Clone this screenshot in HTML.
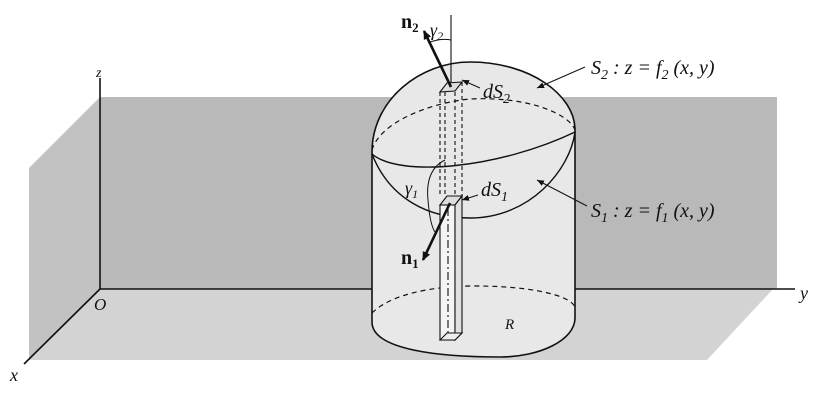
<!DOCTYPE html>
<html><head><style>body{margin:0;background:#fff}svg{display:block}</style></head><body>
<svg width="825" height="406" viewBox="0 0 825 406" xmlns="http://www.w3.org/2000/svg" font-family="Liberation Serif, serif">
<defs><marker id="ah" markerWidth="10" markerHeight="10" refX="8" refY="5" orient="auto" markerUnits="userSpaceOnUse"><path d="M0,1 L9,5 L0,9 Z" fill="#111"/></marker>
<marker id="sa" markerWidth="8" markerHeight="8" refX="7" refY="4" orient="auto" markerUnits="userSpaceOnUse"><path d="M0,1 L7,4 L0,7 Z" fill="#111"/></marker></defs>
<polygon points="100,97 777,97 777,289 100,289" fill="#b9b9b9"/>
<polygon points="29,168 100,97 100,289 29,360" fill="#c2c2c2"/>
<polygon points="100,289 773,289 707,360 29,360" fill="#d3d3d3"/>
<g stroke="#111" stroke-width="1.6" fill="none">
<line x1="100" y1="78" x2="100" y2="289"/>
<line x1="100" y1="289" x2="795" y2="289"/>
<line x1="100" y1="289" x2="24" y2="364"/>
</g>
<path d="M372,152 C372,100 420,62 470,62 C530,62 575,95 575,130 L575,318 C575,340 540,357 500,357 C440,357 372,350 372,322 Z" fill="#e8e8e8" stroke="#111" stroke-width="1.6"/>
<path d="M372,154 C390,200 430,218 470,218 C530,218 570,170 575,132" fill="none" stroke="#111" stroke-width="1.4"/>
<path d="M372,154 C400,178 500,168 575,132" fill="none" stroke="#111" stroke-width="1.4"/>
<path d="M372,150 C380,122 430,103 470,99 C530,96 570,115 575,130" fill="none" stroke="#111" stroke-width="1.2" stroke-dasharray="5,4"/>
<path d="M372,313 C390,295 430,286 475,286 C530,286 570,295 575,307" fill="none" stroke="#111" stroke-width="1.2" stroke-dasharray="5,4"/>
<g stroke="#111" stroke-width="1.1" fill="none">
<line x1="451" y1="15" x2="451" y2="85"/>
<polygon points="440,92 447,83 462,82 455,91" fill="#ddd"/>
<line x1="440" y1="92" x2="440" y2="195" stroke-dasharray="4,3"/>
<line x1="445" y1="92" x2="445" y2="195" stroke-dasharray="4,3"/>
<line x1="455" y1="92" x2="455" y2="200" stroke-dasharray="4,3"/>
<line x1="462" y1="82" x2="462" y2="200" stroke-dasharray="4,3"/>
<polygon points="440,205 447,196 462,196 455,205" fill="#ddd"/>
<rect x="440" y="205" width="15" height="135" fill="#f4f4f4"/>
<polygon points="455,205 462,196 462,333 455,340" fill="#e0e0e0"/>
<line x1="448" y1="208" x2="448" y2="338" stroke-dasharray="8,3,2,3"/>
<polygon points="440,340 447,333 462,333 455,340" fill="#eee"/>
</g>
<line x1="451" y1="87" x2="424" y2="31" stroke="#111" stroke-width="2.6" marker-end="url(#ah)"/>
<line x1="450" y1="203" x2="423" y2="260" stroke="#111" stroke-width="2.6" marker-end="url(#ah)"/>
<path d="M430,42 Q442,38 451,40" fill="none" stroke="#111" stroke-width="1"/>
<path d="M445,160 Q425,170 428,200 Q430,225 435,232" fill="none" stroke="#111" stroke-width="1"/>
<line x1="585" y1="67" x2="537" y2="88" stroke="#111" stroke-width="1" marker-end="url(#sa)"/>
<line x1="587" y1="206" x2="537" y2="180" stroke="#111" stroke-width="1" marker-end="url(#sa)"/>
<line x1="480" y1="88" x2="462" y2="80" stroke="#111" stroke-width="1" marker-end="url(#sa)"/>
<line x1="478" y1="195" x2="462" y2="200" stroke="#111" stroke-width="1" marker-end="url(#sa)"/>
<g fill="#111" font-style="italic" font-size="20">
<text x="96" y="77" font-size="14">z</text>
<text x="94" y="310" font-size="17">O</text>
<text x="10" y="381" font-size="18">x</text>
<text x="800" y="299" font-size="18">y</text>
<text x="483" y="98">dS<tspan font-size="14" dy="5">2</tspan></text>
<text x="481" y="196">dS<tspan font-size="14" dy="5">1</tspan></text>
<text x="591" y="74">S<tspan font-size="14" dy="5">2</tspan><tspan dy="-5"> : z = f</tspan><tspan font-size="14" dy="5">2</tspan><tspan dy="-5"> (x, y)</tspan></text>
<text x="591" y="217">S<tspan font-size="14" dy="5">1</tspan><tspan dy="-5"> : z = f</tspan><tspan font-size="14" dy="5">1</tspan><tspan dy="-5"> (x, y)</tspan></text>
<text x="430" y="36" font-size="18">γ<tspan font-size="12" dy="4">2</tspan></text>
<text x="405" y="194" font-size="18">γ<tspan font-size="12" dy="4">1</tspan></text>
<text x="505" y="329" font-size="15">R</text>
</g>
<g fill="#111" font-weight="bold" font-size="20">
<text x="401" y="28">n<tspan font-size="13" dy="4">2</tspan></text>
<text x="401" y="264">n<tspan font-size="13" dy="4">1</tspan></text>
</g>
</svg>
</body></html>
